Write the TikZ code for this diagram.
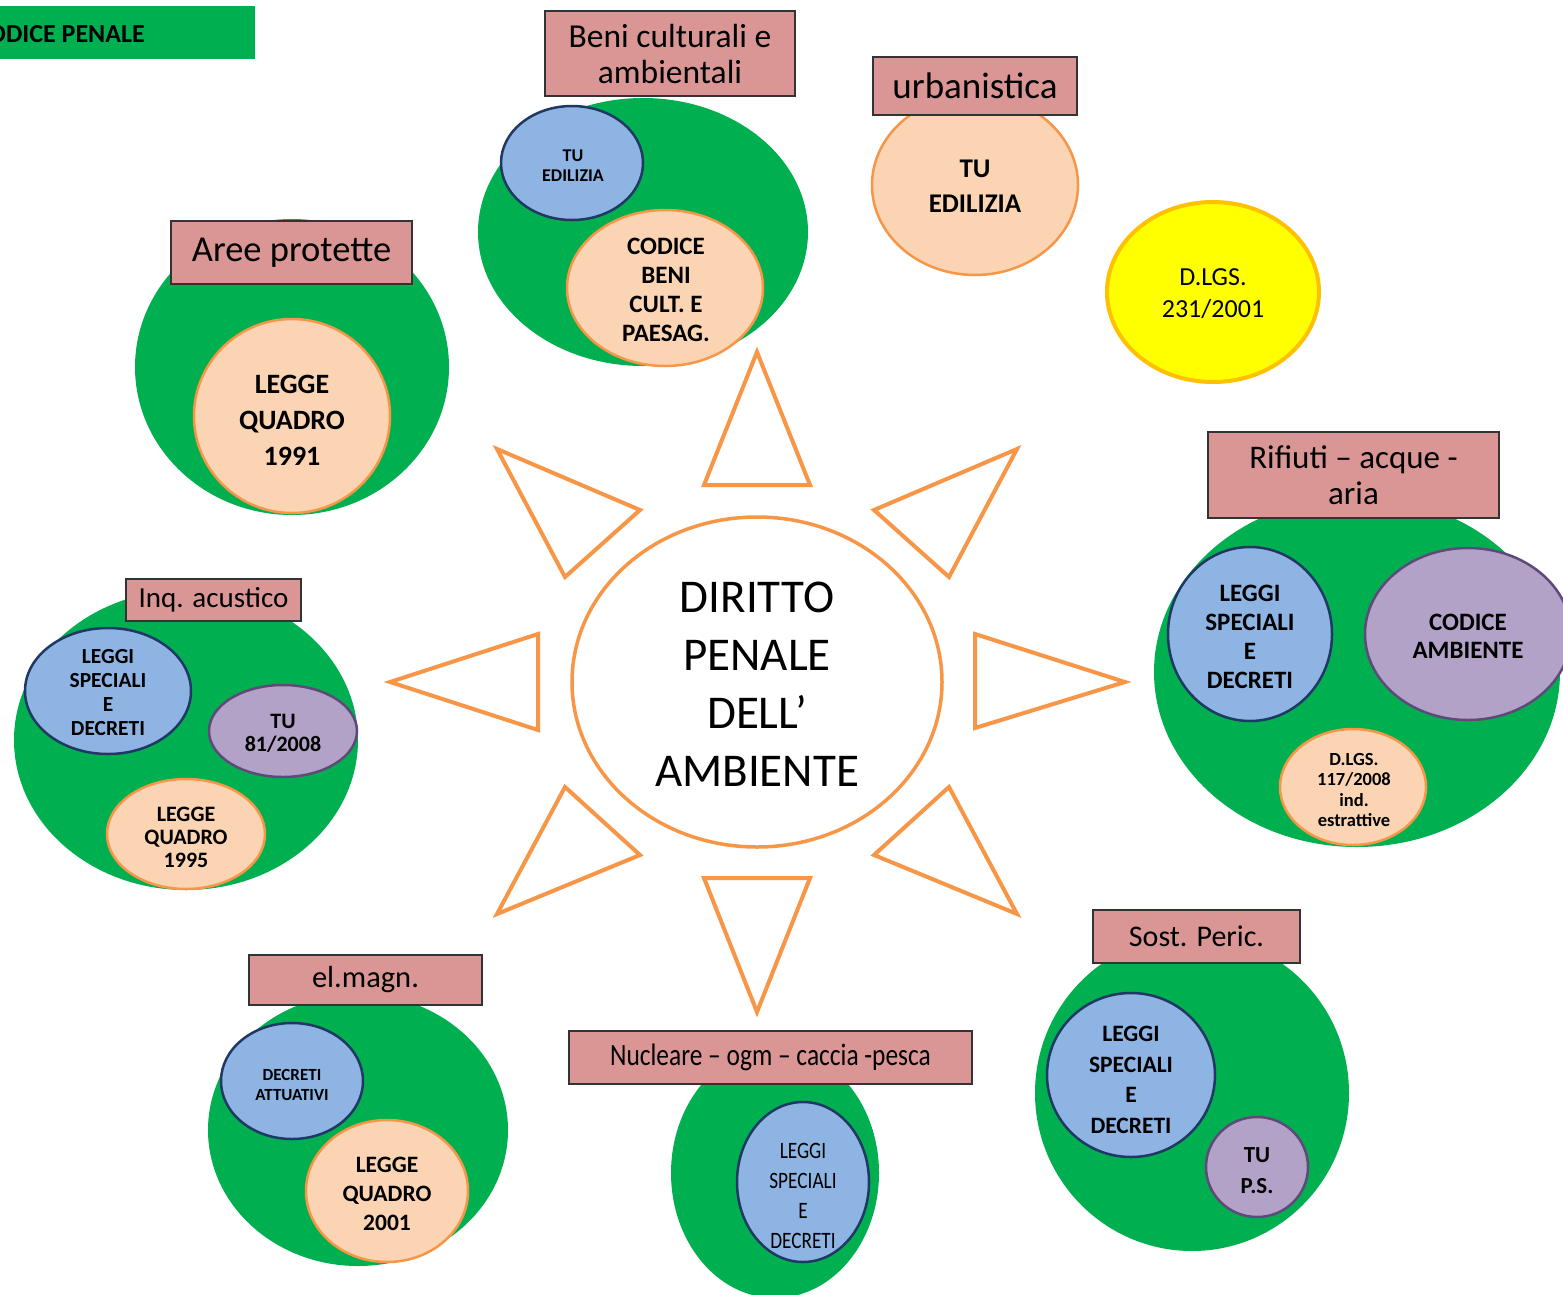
\documentclass[tikz,border=0pt]{standalone}
\usepackage{fontspec}
\setmainfont{Carlito}
\newfontfamily\condfont{Carlito}[FakeStretch=0.82]
\usetikzlibrary{shapes.geometric}
\definecolor{ogreen}{HTML}{00B050}
\definecolor{lblue}{HTML}{8EB4E3}
\definecolor{navy}{HTML}{1F3864}
\definecolor{orng}{HTML}{F79646}
\definecolor{peachc}{HTML}{FBD4B4}
\definecolor{purpl}{HTML}{B3A2C7}
\definecolor{purpd}{HTML}{5F497A}
\definecolor{rosec}{HTML}{D99694}
\definecolor{yel}{HTML}{FFFF00}
\definecolor{gold}{HTML}{FFC000}
\newcommand\fs[2]{\fontsize{#1}{#2}\selectfont}
\tikzset{
  greenbg/.style={ellipse, fill=ogreen, inner sep=0pt},
  blueell/.style={ellipse, draw=navy, line width=2.5pt, fill=lblue, inner sep=0pt},
  peachell/.style={ellipse, draw=orng, line width=2.5pt, fill=peachc, inner sep=0pt},
  purpell/.style={ellipse, draw=purpd, line width=2.5pt, fill=purpl, inner sep=0pt},
  lbl/.style={rectangle, draw=black!80, line width=1.5pt, fill=rosec, inner sep=0pt, align=center},
  txt/.style={inner sep=0pt, align=center},
  arrowtri/.style={draw=orng, line width=4pt, fill=white, line join=miter},
}
\begin{document}
\begin{tikzpicture}[x=1pt,y=-1pt]
\useasboundingbox (0,0) rectangle (1563,1294);
\clip (0,0) rectangle (1563,1294);
\fill[white] (0,0) rectangle (1563,1294);

% top-left box
\node[rectangle, fill=ogreen, inner sep=0pt, minimum width=255pt, minimum height=53pt, anchor=north west] (cp) at (0,6) {};
\node[txt, anchor=east, font=\bfseries\fs{26}{30}] (cpt) at (145,34) {CODICE PENALE};

% central circle
\node[ellipse, draw=orng, line width=3.5pt, fill=white, minimum width=370pt, minimum height=330pt, inner sep=0pt] (c) at (757,682) {};
\node[txt, font=\fs{47}{58}] (ct) at (757,684) {DIRITTO\\PENALE\\DELL’\\AMBIENTE};

% triangles
\draw[arrowtri] (757,352) -- (810,485) -- (704,485) -- cycle;
\draw[arrowtri] (757,1012) -- (810,878) -- (704,878) -- cycle;
\draw[arrowtri] (1125,682) -- (975,634) -- (975,728) -- cycle;
\draw[arrowtri] (390,682) -- (538,634) -- (538,730) -- cycle;
\draw[arrowtri] (497,449) -- (640,510) -- (565,577) -- cycle;
\draw[arrowtri] (1017,449) -- (874,510) -- (949,577) -- cycle;
\draw[arrowtri] (497,914) -- (565,787) -- (640,855) -- cycle;
\draw[arrowtri] (1017,914) -- (949,787) -- (874,855) -- cycle;

% Beni culturali
\node[greenbg, minimum width=330pt, minimum height=268pt] (bg) at (643,232) {};
\node[blueell, minimum width=142pt, minimum height=114pt] (b1) at (572,163) {};
\node[txt, font=\bfseries\fs{18}{20}] (b1t) at (573,166) {TU\\EDILIZIA};
\node[peachell, minimum width=196pt, minimum height=156pt] (b2) at (665,288) {};
\node[txt, font=\bfseries\fs{25}{29}] (b2t) at (666,290) {CODICE\\BENI\\CULT. E\\PAESAG.};
\node[lbl, minimum width=250pt, minimum height=85pt, font=\fs{33.5}{36}] (bl) at (670,53.5) {Beni culturali e\\ambientali};

% urbanistica
\node[peachell, minimum width=206pt, minimum height=180pt] (u1) at (975,185) {};
\node[txt, font=\bfseries\fs{27}{35}] (u1t) at (975,186) {TU\\EDILIZIA};
\node[lbl, minimum width=204pt, minimum height=58pt, font=\fs{37}{40}] (ul) at (975,86) {urbanistica};

% D.LGS 231/2001
\node[ellipse, draw=gold, line width=4pt, fill=yel, minimum width=212pt, minimum height=180pt, inner sep=0pt] (y1) at (1213,292) {};
\node[txt, font=\fs{26}{32}] (y1t) at (1213,294) {D.LGS.\\231/2001};

% Aree protette
\node[greenbg, minimum width=314pt, minimum height=296pt] (ag) at (292,367) {};
\node[peachell, minimum width=196pt, minimum height=194pt] (a1) at (292,416) {};
\node[txt, font=\bfseries\fs{28}{36}] (a1t) at (292,420) {LEGGE\\QUADRO\\1991};
\node[lbl, minimum width=241pt, minimum height=63pt, font=\fs{36.5}{40}] (al) at (291.5,252.5) {Aree protette};

% Rifiuti
\node[greenbg, minimum width=406pt, minimum height=350pt] (rg) at (1357,672) {};
\node[blueell, minimum width=164pt, minimum height=174pt] (r1) at (1250,634) {};
\node[txt, font=\bfseries\fs{25}{29}] (r1t) at (1250,637) {LEGGI\\SPECIALI\\E\\DECRETI};
\node[purpell, minimum width=206pt, minimum height=172pt] (r2) at (1468,634) {};
\node[txt, font=\bfseries\fs{25}{28}] (r2t) at (1468,636) {CODICE\\AMBIENTE};
\node[peachell, minimum width=146pt, minimum height=116pt] (r3) at (1353,787) {};
\node[txt, font=\bfseries\fs{18.5}{20.5}] (r3t) at (1354,790) {D.LGS.\\117/2008\\ind.\\estrattive};
\node[lbl, minimum width=291pt, minimum height=86pt, font=\fs{33}{36}] (rl) at (1353.5,475) {Rifiuti – acque -\\aria};

% Inq. acustico
\node[greenbg, minimum width=344pt, minimum height=300pt] (ig) at (186,740) {};
\node[blueell, minimum width=166pt, minimum height=126pt] (i1) at (108,691) {};
\node[txt, font=\bfseries\fs{21.5}{24}] (i1t) at (108,693) {LEGGI\\SPECIALI\\E\\DECRETI};
\node[purpell, minimum width=148pt, minimum height=92pt] (i2) at (283,731) {};
\node[txt, font=\bfseries\fs{22}{23}] (i2t) at (283,733) {TU\\81/2008};
\node[peachell, minimum width=158pt, minimum height=110pt] (i3) at (186,834) {};
\node[txt, font=\bfseries\fs{22}{23}] (i3t) at (186,837) {LEGGE\\QUADRO\\1995};
\node[lbl, minimum width=175pt, minimum height=42pt, font=\fs{29}{30}] (il) at (213.5,600) {Inq. acustico};

% el.magn.
\node[greenbg, minimum width=300pt, minimum height=272pt] (eg) at (358,1130) {};
\node[blueell, minimum width=142pt, minimum height=116pt] (e1) at (292,1081) {};
\node[txt, font=\bfseries\fs{17}{20}] (e1t) at (292,1085) {DECRETI\\ATTUATIVI};
\node[peachell, minimum width=162pt, minimum height=142pt] (e2) at (387,1191) {};
\node[txt, font=\bfseries\fs{23.5}{29}] (e2t) at (387,1194) {LEGGE\\QUADRO\\2001};
\node[lbl, minimum width=233pt, minimum height=50pt, font=\fs{30.5}{34}] (el) at (365.5,980) {el.magn.};

% Nucleare
\node[greenbg, minimum width=208pt, minimum height=250pt] (ng) at (775,1173) {};
\node[blueell, minimum width=132pt, minimum height=160pt] (n1) at (803,1182) {};
\node[txt, font=\condfont\fs{23.5}{30}] (n1t) at (803,1196) {LEGGI\\SPECIALI\\E\\DECRETI};
\node[lbl, minimum width=403pt, minimum height=53pt, font=\condfont\fs{31}{36}] (nl) at (770.5,1057.5) {Nucleare – ogm – caccia -pesca};

% Sost. Peric.
\node[greenbg, minimum width=314pt, minimum height=316pt] (sg) at (1192,1093) {};
\node[blueell, minimum width=168pt, minimum height=164pt] (s1) at (1131,1075) {};
\node[txt, font=\bfseries\fs{23.5}{30.7}] (s1t) at (1131,1080) {LEGGI\\SPECIALI\\E\\DECRETI};
\node[purpell, minimum width=102pt, minimum height=100pt] (s2) at (1257,1167) {};
\node[txt, font=\bfseries\fs{23}{31}] (s2t) at (1257,1171) {TU\\P.S.};
\node[lbl, minimum width=207pt, minimum height=53pt, font=\fs{30}{36}] (sl) at (1196.5,936.5) {Sost. Peric.};
\end{tikzpicture}
\end{document}
